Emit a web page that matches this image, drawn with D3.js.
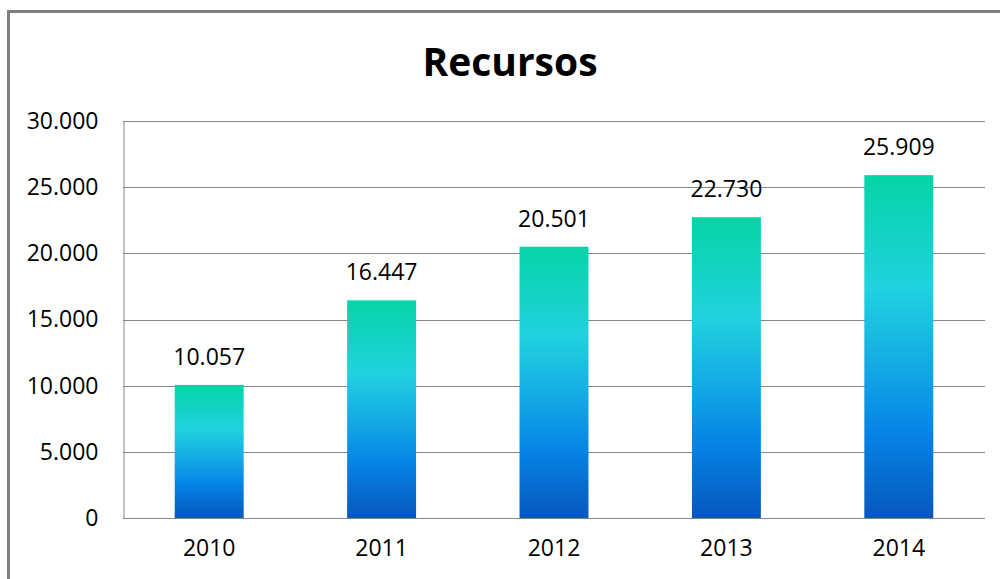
<!DOCTYPE html>
<html>
<head>
<meta charset="utf-8">
<script src="https://cdn.jsdelivr.net/npm/d3@7"></script>
<style>
  body { margin: 0; background: #fff; }
  text { font-family: "Open Sans", "Noto Sans", sans-serif; }
</style>
</head>
<body>
<div id="chart"></div>
<script>
// data
const years = ["2010", "2011", "2012", "2013", "2014"];
const recursos = [10057, 16447, 20501, 22730, 25909];
const yTicks = [0, 5000, 10000, 15000, 20000, 25000, 30000];
const title = "Recursos";

const W = 1000, H = 579;
const margin = {top: 121, right: 15, bottom: 61, left: 123},
      width = W - margin.left - margin.right,
      height = H - margin.top - margin.bottom;

const svg = d3.select("#chart")
  .append("svg")
    .attr("width", W)
    .attr("height", H);

// outer frame
svg.append("rect")
  .attr("x", 8.5)
  .attr("y", 11.5)
  .attr("width", 1010)
  .attr("height", 620)
  .attr("fill", "none")
  .attr("stroke", "#808080")
  .attr("stroke-width", 3);

// gradient for bars (each bar gets the full ramp)
const grad = svg.append("defs").append("linearGradient")
  .attr("id", "barGrad")
  .attr("x1", 0).attr("y1", 0).attr("x2", 0).attr("y2", 1);
[["0%", "#06d4a6"], ["33%", "#20d2df"], ["55%", "#14abe4"], ["75%", "#0584e6"], ["100%", "#0757bd"]]
  .forEach(([o, c]) => grad.append("stop").attr("offset", o).attr("stop-color", c));

const g = svg.append("g")
  .attr("transform", `translate(${margin.left},${margin.top})`);

const x = d3.scaleBand()
  .domain(years)
  .range([0, width])
  .paddingInner(0.6)
  .paddingOuter(0.3);

const y = d3.scaleLinear()
  .domain([0, 30000])
  .range([height, 0]);

const fmt = d3.formatLocale({decimal: ",", thousands: ".", grouping: [3], currency: ["", ""]}).format(",d");

// gridlines
g.selectAll(".grid")
  .data(yTicks)
  .enter().append("line")
    .attr("x1", 0)
    .attr("x2", width)
    .attr("y1", d => Math.round(y(d)) + 0.5)
    .attr("y2", d => Math.round(y(d)) + 0.5)
    .attr("stroke", "#868686")
    .attr("stroke-width", 1);

// y axis
const yAxis = g.append("g")
  .attr("transform", "translate(0.5,0)")
  .call(d3.axisLeft(y).tickValues(yTicks).tickFormat(fmt).tickSize(0).tickPadding(25));
yAxis.select(".domain").attr("stroke", "#868686");
yAxis.selectAll("text")
  .attr("font-size", 23)
  .attr("fill", "#000")
  .style("font-family", "'Open Sans', sans-serif");

// x axis
const xAxis = g.append("g")
  .attr("transform", `translate(0,${height})`)
  .call(d3.axisBottom(x).tickSize(0).tickPadding(22));
xAxis.select(".domain").remove();
xAxis.selectAll("text")
  .attr("font-size", 23)
  .attr("fill", "#000")
  .style("font-family", "'Open Sans', sans-serif");

// bars
g.selectAll(".bar")
  .data(years)
  .enter().append("rect")
    .attr("x", d => x(d))
    .attr("y", (d, i) => y(recursos[i]))
    .attr("width", x.bandwidth())
    .attr("height", (d, i) => height - y(recursos[i]))
    .attr("fill", "url(#barGrad)");

// value labels
g.selectAll(".label")
  .data(years)
  .enter().append("text")
    .attr("x", d => x(d) + x.bandwidth() / 2)
    .attr("y", (d, i) => y(recursos[i]) - 20)
    .attr("text-anchor", "middle")
    .attr("font-size", 23)
    .text((d, i) => fmt(recursos[i]));

// title
svg.append("text")
  .attr("x", 510)
  .attr("y", 76)
  .attr("text-anchor", "middle")
  .attr("font-size", 39)
  .attr("font-weight", "bold")
  .text(title);
</script>
</body>
</html>
